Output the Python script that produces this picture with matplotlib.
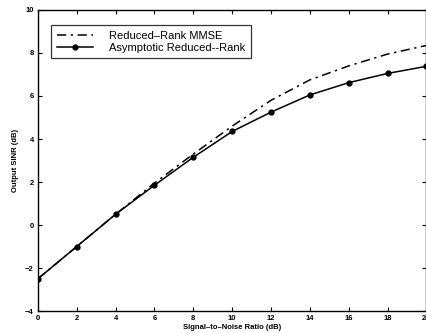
import matplotlib
matplotlib.use("Agg")
import matplotlib.pyplot as plt

snr_db = [0, 2, 4, 6, 8, 10, 12, 14, 16, 18, 20]
mmse = [-2.5, -1.0, 0.5, 1.95, 3.3, 4.6, 5.8, 6.75, 7.4, 7.95, 8.35]
asymptotic = [-2.5, -1.0, 0.5, 1.85, 3.15, 4.35, 5.25, 6.05, 6.62, 7.05, 7.38]

plt.rcParams['font.family'] = ['Liberation Sans', 'DejaVu Sans']

fig = plt.figure(figsize=(4.26, 3.33), dpi=100)
ax = fig.add_axes([0.089, 0.066, 0.912, 0.904])

ax.plot(snr_db, mmse, color="black", linestyle=(0, (6, 3, 1.5, 3)), linewidth=1.1,
        label="Reduced\u2013Rank MMSE")
ax.plot(snr_db, asymptotic, color="black", linestyle="-", linewidth=1.1,
        marker="o", markersize=3.5, label="Asymptotic Reduced--Rank")

ax.set_xlim(0, 20)
ax.set_ylim(-4, 10)
ax.set_xticks(range(0, 21, 2))
ax.set_yticks(range(-4, 11, 2))
ax.tick_params(direction="in", length=3, width=0.8, labelsize=5.5, pad=3,
               top=True, right=True)
for lbl in ax.get_xticklabels() + ax.get_yticklabels():
    lbl.set_fontweight("bold")
for s in ax.spines.values():
    s.set_linewidth(1.0)

ax.set_xlabel("Signal\u2013to\u2013Noise Ratio (dB)", fontsize=5.5, fontweight="bold", labelpad=1)
ax.set_ylabel("Output SINR (dB)", fontsize=5.5, fontweight="bold", labelpad=4)

leg = ax.legend(loc="upper left", bbox_to_anchor=(0.034, 0.95), borderaxespad=0,
                fontsize=8, frameon=True, fancybox=False, edgecolor="black",
                handlelength=3.3, borderpad=0.5, labelspacing=0.2, handletextpad=1.4)
leg.get_frame().set_linewidth(0.9)

fig.savefig("out.png", dpi=100)
